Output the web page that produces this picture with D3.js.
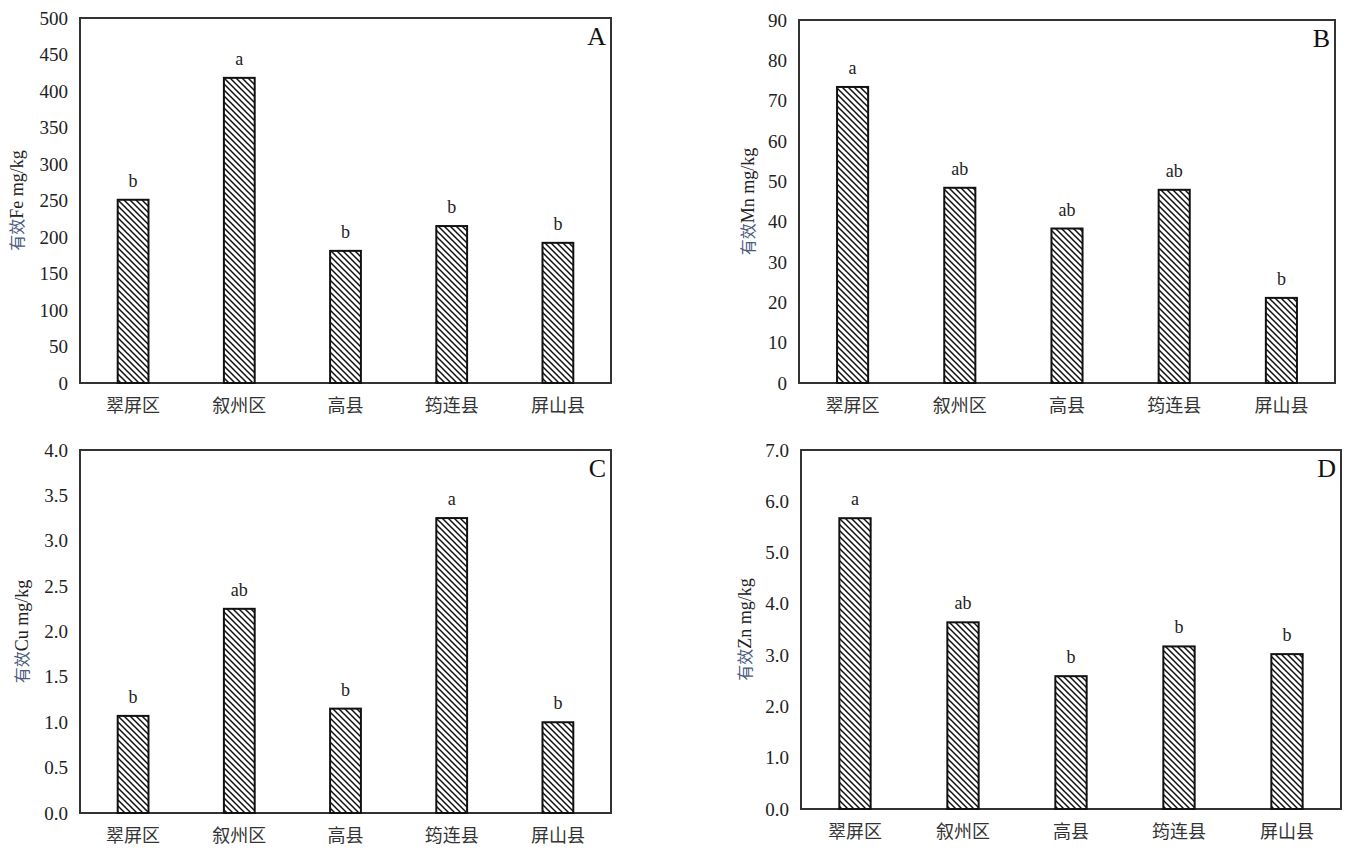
<!DOCTYPE html>
<html>
<head>
<meta charset="utf-8">
<script src="https://cdn.jsdelivr.net/npm/d3@7"></script>
<style>
  body { margin: 0; background: #fff; }
</style>
</head>
<body>
<div id="okvir"></div>
<script>
// podaci
const categories = ["翠屏区", "叙州区", "高县", "筠连县", "屏山县"]

const feValues = [251, 418, 181, 215, 192]
const mnValues = [73.4, 48.4, 38.3, 47.9, 21.1]
const cuValues = [1.07, 2.25, 1.15, 3.25, 1.00]
const znValues = [5.67, 3.64, 2.59, 3.17, 3.02]

const feLetters = ["b", "a", "b", "b", "b"]
const mnLetters = ["a", "ab", "ab", "ab", "b"]
const cuLetters = ["b", "ab", "b", "a", "b"]
const znLetters = ["a", "ab", "b", "b", "b"]

const feTicks = [0, 50, 100, 150, 200, 250, 300, 350, 400, 450, 500]
const mnTicks = [0, 10, 20, 30, 40, 50, 60, 70, 80, 90]
const cuTicks = [0, 0.5, 1.0, 1.5, 2.0, 2.5, 3.0, 3.5, 4.0]
const znTicks = [0, 1, 2, 3, 4, 5, 6, 7]

const serif = '"Liberation Serif", "Times New Roman", serif'

// raspored panela
const paneli = [
  { id: "A", element: "Fe", values: feValues, letters: feLetters, ticks: feTicks, fmt: d3.format("d"),
    left: 80, top: 18, right: 611, bottom: 383, labelX: 17 },
  { id: "B", element: "Mn", values: mnValues, letters: mnLetters, ticks: mnTicks, fmt: d3.format("d"),
    left: 799, top: 20, right: 1335, bottom: 383, labelX: 748 },
  { id: "C", element: "Cu", values: cuValues, letters: cuLetters, ticks: cuTicks, fmt: d3.format(".1f"),
    left: 80, top: 450, right: 611, bottom: 813, labelX: 22 },
  { id: "D", element: "Zn", values: znValues, letters: znLetters, ticks: znTicks, fmt: d3.format(".1f"),
    left: 801, top: 450, right: 1341, bottom: 809, labelX: 745 },
]

const okvir = d3.select("#okvir")
  .append("svg")
    .attr("width", 1356)
    .attr("height", 851)

// uzorak srafure
const defs = okvir.append("defs")
const pat = defs.append("pattern")
    .attr("id", "srafura")
    .attr("patternUnits", "userSpaceOnUse")
    .attr("width", 6)
    .attr("height", 6)
pat.append("rect").attr("width", 6).attr("height", 6).attr("fill", "#fff")
pat.append("path")
    .attr("d", "M-1,-1 L7,7 M-1,5 L1,7 M5,-1 L7,1")
    .attr("stroke", "#111")
    .attr("stroke-width", 1.5)

paneli.forEach(p => {
  const sirina = p.right - p.left
  const visina = p.bottom - p.top

  const g = okvir.append("g")
      .attr("transform", `translate(${p.left},${p.top})`)

  const xSkala = d3.scaleBand()
    .domain(categories)
    .range([0, sirina])
    .paddingInner(0.71)
    .paddingOuter(0.355)

  const ySkala = d3.scaleLinear()
    .domain([0, d3.max(p.ticks)])
    .range([visina, 0])

  // okvir grafa
  g.append("rect")
      .attr("width", sirina)
      .attr("height", visina)
      .attr("fill", "none")
      .attr("stroke", "#333")
      .attr("stroke-width", 2)

  // stupci
  g.selectAll("rect.bar")
    .data(p.values)
    .join("rect")
      .attr("class", "bar")
      .attr("x", (d, i) => xSkala(categories[i]))
      .attr("y", d => ySkala(d))
      .attr("width", xSkala.bandwidth())
      .attr("height", d => visina - ySkala(d))
      .attr("fill", "url(#srafura)")
      .attr("stroke", "#111")
      .attr("stroke-width", 2)

  // oznake signifikantnosti
  g.selectAll("text.sig")
    .data(p.values)
    .join("text")
      .attr("class", "sig")
      .attr("x", (d, i) => xSkala(categories[i]) + xSkala.bandwidth() / 2)
      .attr("y", d => ySkala(d) - 13)
      .attr("text-anchor", "middle")
      .style("font-family", serif)
      .style("font-size", "18px")
      .style("fill", "#222")
      .text((d, i) => p.letters[i])

  // y os
  const yOs = g.append("g")
    .call(d3.axisLeft(ySkala).tickValues(p.ticks).tickFormat(p.fmt).tickSize(0).tickPadding(12))
  yOs.select(".domain").remove()
  yOs.selectAll("text")
      .style("font-family", serif)
      .style("font-size", "19px")
      .style("fill", "#222")

  // x os
  const xOs = g.append("g")
      .attr("transform", `translate(0,${visina})`)
    .call(d3.axisBottom(xSkala).tickSize(0).tickPadding(16))
  xOs.select(".domain").remove()
  xOs.selectAll("text")
      .style("font-family", '"Noto Sans CJK SC", sans-serif')
      .style("font-size", "18px")
      .style("fill", "#333")

  // oznaka panela
  g.append("text")
      .attr("x", sirina - 5)
      .attr("y", 27)
      .attr("text-anchor", "end")
      .style("font-family", serif)
      .style("font-size", "26px")
      .style("fill", "#111")
      .text(p.id)

  // naslov y osi
  const yNaslov = okvir.append("text")
      .attr("transform", `translate(${p.labelX},${p.top + visina / 2}) rotate(-90)`)
      .attr("text-anchor", "middle")
      .attr("dy", "0.35em")
      .style("font-family", serif)
      .style("font-size", "18px")
      .style("fill", "#222")
  yNaslov.append("tspan")
      .style("font-family", '"Noto Sans CJK SC", sans-serif')
      .style("font-size", "16px")
      .style("fill", "#4a5a80")
      .text("有效")
  yNaslov.append("tspan").text(p.element + " mg/kg")
})
</script>
</body>
</html>
